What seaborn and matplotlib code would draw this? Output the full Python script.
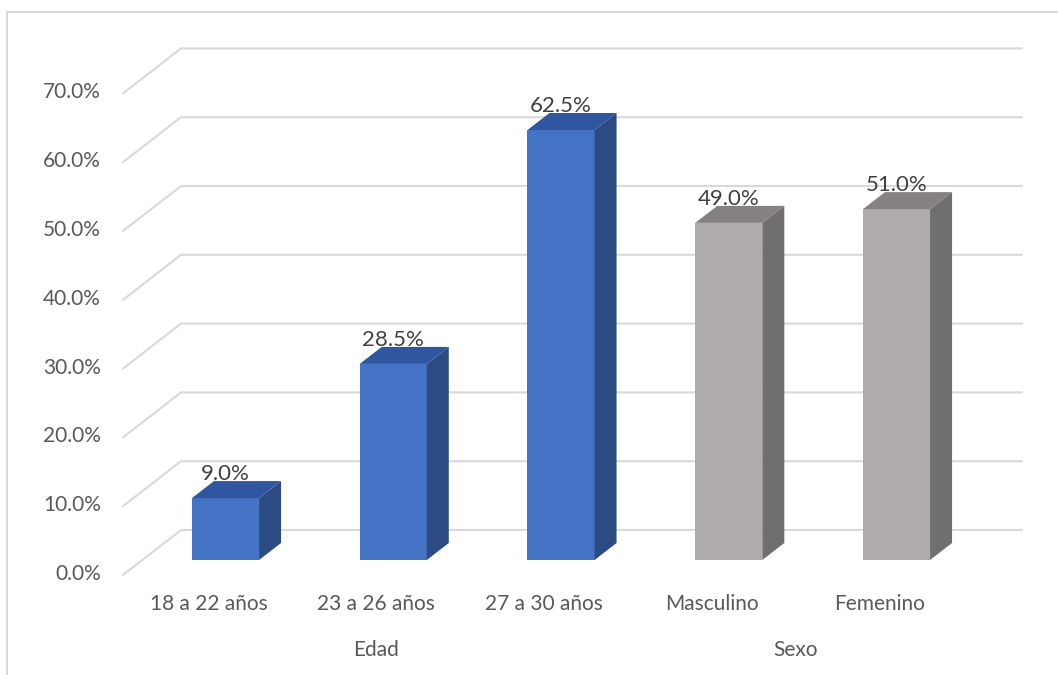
import pandas as pd
import seaborn as sns
import matplotlib.pyplot as plt
from matplotlib.patches import Polygon
from matplotlib.lines import Line2D

# Datos del grafico
categorias = ["18 a 22 años", "23 a 26 años", "27 a 30 años", "Masculino", "Femenino"]
valores = [9.0, 28.5, 62.5, 49.0, 51.0]
grupos = ["Edad", "Edad", "Edad", "Sexo", "Sexo"]
ticks_y = [0, 10, 20, 30, 40, 50, 60, 70]

df = pd.DataFrame({"categoria": categorias, "valor": valores, "grupo": grupos})

color_frente = {"Edad": "#4472C4", "Sexo": "#AEABAA"}
color_lado = {"Edad": "#2B4B82", "Sexo": "#716E6E"}
color_tapa = {"Edad": "#3156A0", "Sexo": "#858180"}
gris_texto = "#595959"
gris_grid = "#D9D9D9"

sns.set_theme(style="white")
plt.rcParams["font.family"] = ["Lato", "DejaVu Sans"]

W, H = 1058, 675
fig = plt.figure(figsize=(W / 100, H / 100), dpi=100)
ax = fig.add_axes([0, 0, 1, 1])

sns.barplot(data=df, x="categoria", y="valor", hue="grupo", palette=color_frente,
            dodge=False, width=0.4, saturation=1, legend=False, ax=ax, zorder=3,
            linewidth=0, edgecolor="none")

# escala en pixeles: una categoria = 167.75 px, 1% = 6.88 px, base a 560 px desde arriba
px_cat, px_pct = 167.75, 6.88
x0_px, base_px = 225.5, 560
ax.set_xlim(-x0_px / px_cat, (W - x0_px) / px_cat)
ax.set_ylim(-(H - base_px) / px_pct, base_px / px_pct)
ax.axis("off")


def desplazar(x, y, dx, dy):
    px, py = ax.transData.transform((x, y))
    return ax.transData.inverted().transform((px + dx, py + dy))


# caras laterales y superiores (efecto 3D)
prof_x, prof_y = 22, 17
barras = sorted([p for p in ax.patches if p.get_height() > 0], key=lambda p: p.get_x())
for barra, grupo, v in zip(barras, grupos, valores):
    xa, xb, h = barra.get_x(), barra.get_x() + barra.get_width(), barra.get_height()
    lado = [(xb, 0), (xb, h), desplazar(xb, h, prof_x, prof_y), desplazar(xb, 0, prof_x, prof_y)]
    tapa = [(xa, h), (xb, h), desplazar(xb, h, prof_x, prof_y), desplazar(xa, h, prof_x, prof_y)]
    ax.add_patch(Polygon(lado, closed=True, facecolor=color_lado[grupo], edgecolor="none", zorder=3))
    ax.add_patch(Polygon(tapa, closed=True, facecolor=color_tapa[grupo], edgecolor="none", zorder=3))
    xc = (xa + xb) / 2
    tx, ty = desplazar(xc, h, 0, prof_y + 1)
    ax.text(tx, ty, f"{v:.1f}%", ha="center", va="baseline", fontsize=16, color="#404040", zorder=5)

# rejilla: diagonal en la pared izquierda y linea en la pared del fondo
x_izq = (123 - x0_px) / px_cat
for v in ticks_y:
    f = desplazar(x_izq, v, 0, -15)
    b = desplazar(x_izq, v, 58, 30)
    r = desplazar(x_izq, v, 1022 - 123, 30)
    ax.plot([f[0], b[0], r[0]], [f[1], b[1], r[1]], color=gris_grid, lw=1.5, zorder=1,
            solid_joinstyle="miter")
    lx, ly = desplazar(x_izq, v, -22, -14)
    ax.text(lx, ly, f"{v:.1f}%", ha="right", va="center", fontsize=15, color=gris_texto)

# etiquetas de categoria y de grupo
for i, cat in enumerate(categorias):
    cx, cy = desplazar(i, 0, -17, -44)
    ax.text(cx, cy, cat, ha="center", va="center", fontsize=15, color=gris_texto)

for g in ["Edad", "Sexo"]:
    pos = [i for i, gg in enumerate(grupos) if gg == g]
    gx, gy = desplazar(sum(pos) / len(pos), 0, -17, -90)
    ax.text(gx, gy, g, ha="center", va="center", fontsize=15, color=gris_texto)

# marco del area del grafico
fig.add_artist(Line2D([7 / W, 7 / W], [0, 1 - 12 / H], color=gris_grid, lw=1.5, transform=fig.transFigure))
fig.add_artist(Line2D([7 / W, 1], [1 - 12 / H, 1 - 12 / H], color=gris_grid, lw=1.5, transform=fig.transFigure))

fig.savefig("out.png", dpi=100)
